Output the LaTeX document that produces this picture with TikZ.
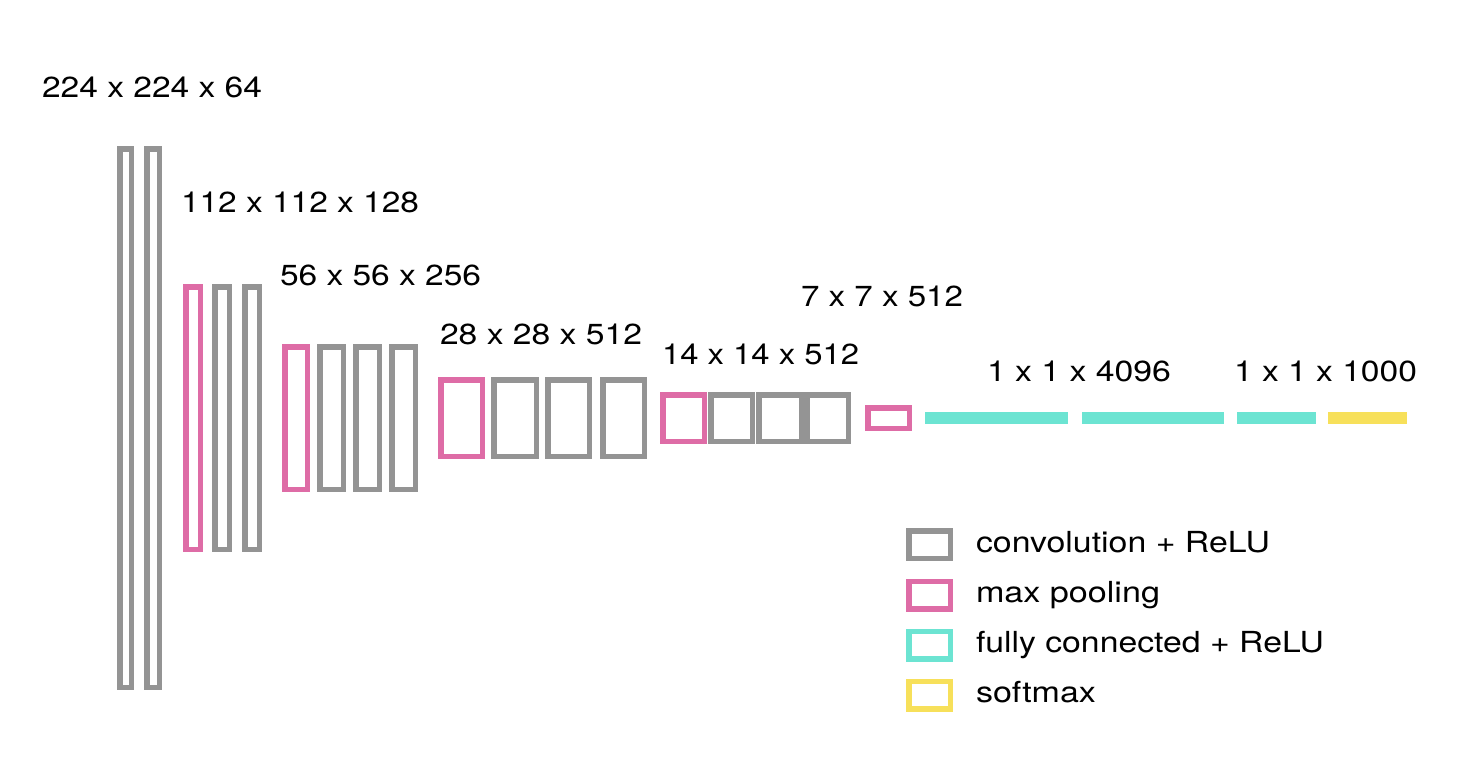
\documentclass[tikz,border=0pt]{standalone}
\usepackage{fontspec}
\setmainfont{TeX Gyre Heros}
\definecolor{cgray}{RGB}{148,148,148}
\definecolor{cpink}{RGB}{222,108,166}
\definecolor{ccyan}{RGB}{108,228,210}
\definecolor{cyellow}{RGB}{247,224,90}
\begin{document}
\begin{tikzpicture}[x=1pt,y=-1pt,
  blk/.style={line width=5.5pt, inner sep=0pt, outer sep=0pt, fill=none},
  conv/.style={blk, draw=cgray},
  pool/.style={blk, draw=cpink},
  fcbar/.style={fill=ccyan, draw=none, inner sep=0pt, outer sep=0pt, minimum height=12pt},
  smbar/.style={fill=cyellow, draw=none, inner sep=0pt, outer sep=0pt, minimum height=12pt},
  lbl/.style={anchor=base west, inner sep=0pt, outer sep=0pt, font=\fontsize{29}{34}\selectfont},
  leg/.style={blk, minimum width=41.5pt, minimum height=27.5pt}]
\useasboundingbox (0,0) rectangle (1480,782);
% group 1
\node[conv, minimum width=11.5pt, minimum height=538.5pt] (c1a) at (125.5,418) {};
\node[conv, minimum width=12.5pt, minimum height=538.5pt] (c1b) at (153,418) {};
% group 2
\node[pool, minimum width=14.5pt, minimum height=262.5pt] (p1) at (193,418) {};
\node[conv, minimum width=14.5pt, minimum height=262.5pt] (c2a) at (222,418) {};
\node[conv, minimum width=14.5pt, minimum height=262.5pt] (c2b) at (252,418) {};
% group 3
\node[pool, minimum width=22.5pt, minimum height=142.5pt] (p2) at (296,418) {};
\node[conv, minimum width=23.5pt, minimum height=142.5pt] (c3a) at (331.5,418) {};
\node[conv, minimum width=23.5pt, minimum height=142.5pt] (c3b) at (367.5,418) {};
\node[conv, minimum width=23.5pt, minimum height=142.5pt] (c3c) at (403.5,418) {};
% group 4
\node[pool, minimum width=41.5pt, minimum height=76.5pt] (p3) at (461.5,418) {};
\node[conv, minimum width=42.5pt, minimum height=76.5pt] (c4a) at (515,418) {};
\node[conv, minimum width=41.5pt, minimum height=76.5pt] (c4b) at (568.5,418) {};
\node[conv, minimum width=41.5pt, minimum height=76.5pt] (c4c) at (623.5,418) {};
% group 5
\node[pool, minimum width=41.5pt, minimum height=46.5pt] (p4) at (683.5,418) {};
\node[conv, minimum width=41.5pt, minimum height=46.5pt] (c5a) at (731.5,418) {};
\node[conv, minimum width=42.5pt, minimum height=46.5pt] (c5b) at (780,418) {};
\node[conv, minimum width=41.5pt, minimum height=46.5pt] (c5c) at (827.5,418) {};
% last pool
\node[pool, minimum width=41.5pt, minimum height=20.5pt] (p5) at (888.5,418) {};
% fully connected + softmax
\node[fcbar, minimum width=143pt] (f1) at (996.5,418) {};
\node[fcbar, minimum width=142pt] (f2) at (1153,418) {};
\node[fcbar, minimum width=79pt] (f3) at (1276.5,418) {};
\node[smbar, minimum width=79pt] (sm) at (1367.5,418) {};
% size labels
\node[lbl] (l1) at (42,97) {\resizebox{220pt}{\height}{224 x 224 x 64}};
\node[lbl] (l2) at (181,212) {\resizebox{238pt}{\height}{112 x 112 x 128}};
\node[lbl] (l3) at (280,285) {\resizebox{201pt}{\height}{56 x 56 x 256}};
\node[lbl] (l4) at (440,344) {\resizebox{202pt}{\height}{28 x 28 x 512}};
\node[lbl] (l5) at (801,306.5) {\resizebox{162pt}{\height}{7 x 7 x 512}};
\node[lbl] (l6) at (662,364) {\resizebox{197pt}{\height}{14 x 14 x 512}};
\node[lbl] (l7) at (987,381) {\resizebox{184pt}{\height}{1 x 1 x 4096}};
\node[lbl] (l8) at (1234,381) {\resizebox{183pt}{\height}{1 x 1 x 1000}};
% legend
\node[leg, draw=cgray] (k1) at (929.5,544.5) {};
\node[leg, draw=cpink] (k2) at (929.5,595) {};
\node[leg, draw=ccyan] (k3) at (929.5,645) {};
\node[leg, draw=cyellow] (k4) at (929.5,695) {};
\node[lbl] (t1) at (976,552) {\resizebox{294pt}{\height}{convolution + ReLU}};
\node[lbl] (t2) at (976,602) {\resizebox{184pt}{\height}{max pooling}};
\node[lbl] (t3) at (976,652) {\resizebox{348pt}{\height}{fully connected + ReLU}};
\node[lbl] (t4) at (976,702) {\resizebox{120pt}{\height}{softmax}};
\end{tikzpicture}
\end{document}
